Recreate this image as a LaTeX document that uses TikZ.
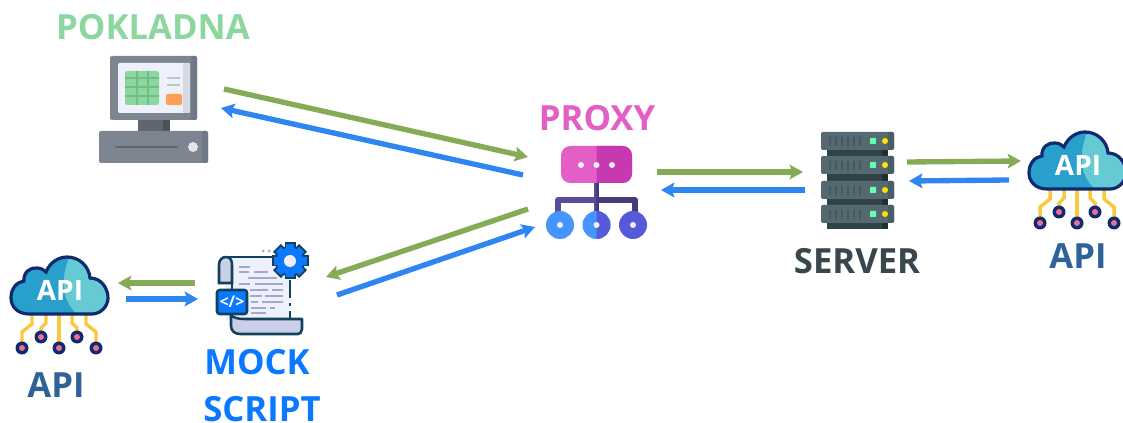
\documentclass[tikz,border=0pt]{standalone}
\usepackage{fontspec}
\setmainfont{Open Sans}
\usetikzlibrary{arrows.meta}
\definecolor{posgreen}{HTML}{8DD6A0}
\definecolor{posgrid}{HTML}{6CC085}
\definecolor{posgray}{HTML}{7D8590}
\definecolor{posdark}{HTML}{6F7885}
\definecolor{posneck}{HTML}{5E6670}
\definecolor{proxypink}{HTML}{E35FC6}
\definecolor{proxydark}{HTML}{C639B0}
\definecolor{proxyline}{HTML}{5B4A9E}
\definecolor{proxylined}{HTML}{443A7C}
\definecolor{proxyblue}{HTML}{4694FF}
\definecolor{proxyviolet}{HTML}{5659D8}
\definecolor{paleblue}{HTML}{EEF1FB}
\definecolor{rack}{HTML}{566970}
\definecolor{rackdark}{HTML}{4B5D64}
\definecolor{rackgap}{HTML}{2F4347}
\definecolor{rackvent}{HTML}{455A60}
\definecolor{servertext}{HTML}{37474B}
\definecolor{apitext}{HTML}{2F6299}
\definecolor{cloudnavy}{HTML}{0F2A6E}
\definecolor{cloudblue}{HTML}{29A0CC}
\definecolor{cloudlight}{HTML}{65CAD3}
\definecolor{wire}{HTML}{FCC63F}
\definecolor{pinpink}{HTML}{EE6E90}
\definecolor{mockblue}{HTML}{0A78FF}
\definecolor{scrollink}{HTML}{12415E}
\definecolor{scrollpale}{HTML}{C9CFE6}
\definecolor{scrollline}{HTML}{A3A9CC}
\definecolor{arrowgreen}{HTML}{86AB56}
\definecolor{arrowblue}{HTML}{2F86F0}
\definecolor{posorange}{HTML}{FF9F55}
\tikzset{
  bigtext/.style={font=\bfseries\fontsize{26}{26}\selectfont, inner sep=0pt},
  greenflow/.style={draw=arrowgreen, line width=4pt, -{Stealth[length=10pt, width=11pt, inset=2pt]}},
  blueflow/.style={draw=arrowblue, line width=4pt, -{Stealth[length=10pt, width=11pt, inset=2pt]}},
  apicloud/.pic={
    % wires
    \foreach \s in {-1,1}{
      \draw[wire, line width=2.6pt] (\s*37,0) -- (\s*37,-16) -- (\s*27,-24) -- (\s*27,-36);
      \draw[wire, line width=2.6pt] (\s*18,-11) -- (\s*18,-20) -- (\s*13,-25) -- (\s*13,-36);
    }
    \draw[wire, line width=2.6pt] (0,0) -- (0,-36);
    % pins
    \foreach \px/\py in {-37/0,-18/-11,0/0,18/-11,37/0}{
      \fill[cloudnavy] (\px,\py) circle (6.5);
      \fill[pinpink] (\px,\py) circle (3);
    }
    % body
    \def\cloudpath{(-30,-34) .. controls (-42,-34) and (-48,-42) .. (-48,-50)
      .. controls (-48,-60) and (-42,-66) .. (-35,-67)
      .. controls (-36,-76) and (-28,-81) .. (-22,-80)
      .. controls (-18,-80) and (-15,-78) .. (-13,-76)
      .. controls (-9,-86) and (0,-91) .. (8,-91)
      .. controls (20,-91) and (30,-82) .. (31,-70)
      .. controls (42,-70) and (49,-60) .. (49,-50)
      .. controls (49,-42) and (42,-34) .. (33,-34) -- cycle}
    \fill[cloudblue] \cloudpath;
    \begin{scope}
      \clip \cloudpath;
      \fill[cloudlight] (11,-92) .. controls (3,-75) and (0,-50) .. (18,-34) -- (55,-34) -- (55,-92) -- cycle;
    \end{scope}
    \draw[cloudnavy, line width=2.4pt] \cloudpath;
    \node[white, font=\bfseries\fontsize{21}{21}\selectfont, inner sep=0pt] at (1,-58) {API};
  }
}
\begin{document}
\begin{tikzpicture}[x=0.75pt, y=-0.75pt]
\useasboundingbox (0,0) rectangle (1123,423);

% === Labels ===
\node[bigtext, text=posgreen] (LabelPos) at (153,27) {POKLADNA};
\node[bigtext, text=proxypink] (LabelProxy) at (597,118) {PROXY};
\node[bigtext, text=servertext] (LabelServer) at (857,261) {SERVER};
\node[bigtext, text=apitext] (LabelApiA) at (1078,256) {API};
\node[bigtext, text=apitext] (LabelApiB) at (56,385) {API};
\node[bigtext, text=mockblue] (LabelMock) at (257,362) {MOCK};
\node[bigtext, text=mockblue] (LabelScript) at (262,409) {SCRIPT};

% === Pokladna ===
\fill[posgray, rounded corners=1.5pt] (110,56) rectangle (197,120);
\fill[posdark, rounded corners=1.5pt] (191,56) rectangle (197,120);
\fill[paleblue, rounded corners=1pt] (118,63) rectangle (190,113);
\fill[black!10!paleblue] (183,63) rectangle (190,113);
\fill[posgreen, rounded corners=1.5pt] (125,71) rectangle (159,105);
\foreach \i in {137,148}{
  \draw[posgrid, line width=2pt] (\i,71) -- (\i,105);
}
\foreach \i in {78,87,96}{
  \draw[posgrid, line width=2pt] (125,\i) -- (159,\i);
}
\foreach \i in {78,85}{
  \draw[black!23, line width=2.2pt] (167,\i) -- (180,\i);
}
\fill[posorange, rounded corners=1pt] (166,94) rectangle (182,105);
\fill[posneck] (138,120) rectangle (170,132);
\fill[posneck!80!black] (163,120) rectangle (170,132);
\fill[posgray, rounded corners=1.5pt] (99,131) rectangle (208,163);
\fill[posdark, rounded corners=1.5pt] (202,131) rectangle (208,163);
\draw[posneck, line width=2.2pt, line cap=round] (116,147) -- (177,147);
\fill[black!10] (193,147) circle (5);

% === Proxy ===
\draw[proxyline, line width=3.8pt, line join=round] (558,214) -- (558,200) -- (596.5,200);
\draw[proxylined, line width=3.8pt, line join=round] (635,214) -- (635,200) -- (596.5,200);
\draw[proxyline, line width=2.4pt] (595.3,183) -- (595.3,214);
\draw[proxylined, line width=2.4pt] (597.7,183) -- (597.7,214);
\fill[proxypink, rounded corners=7pt] (561,146) rectangle (632,183);
\begin{scope}
  \clip (596.5,140) rectangle (640,190);
  \fill[proxydark, rounded corners=7pt] (561,146) rectangle (632,183);
\end{scope}
\foreach \i in {581,596.5,612}{
  \fill[paleblue] (\i,165) circle (3);
}
\fill[proxyblue] (560,225) circle (14);
\fill[proxyblue] (596.5,225) circle (14);
\fill[proxyviolet] (596.5,211) arc (-90:90:14) -- cycle;
\fill[proxyviolet] (633,225) circle (14);
\foreach \i in {560,596.5,633}{
  \fill[paleblue] (\i,225) circle (3);
}

% === Server ===
\fill[rackgap] (827,148) rectangle (888,229);
\fill[rackgap!70!black] (882,148) rectangle (888,229);
\foreach \y in {132,156,181,205}{
  \fill[rack, rounded corners=1pt] (821,\y) rectangle (894,\y+18);
  \fill[rackdark, rounded corners=1pt] (888,\y) rectangle (894,\y+18);
  \foreach \x in {830,836,842,848,854,860}{
    \draw[rackvent, line width=1.6pt] (\x,\y+5) -- (\x,\y+14);
  }
  \fill[green!55!cyan!60!white, rounded corners=.5pt] (870,\y+6) rectangle (876,\y+12);
  \fill[yellow!85!orange] (885,\y+9) circle (3);
}

% === Clouds ===
\pic at (1077,223) {apicloud};
\pic at (59,348) {apicloud};

% === Mock script ===
\fill[paleblue] (226,258) rectangle (290,320);
\draw[scrollink, line width=1.9pt] (232,283) -- (232,320);
\draw[scrollink, line width=1.9pt] (226,257) -- (272,257);
\draw[scrollink, line width=1.9pt] (290,280) -- (290,298);
\draw[scrollink, line width=1.9pt] (290,303) -- (290,306);
\draw[scrollink, line width=1.9pt] (290,311) -- (290,319);
\draw[scrollink, fill=scrollpale, line width=1.9pt] (232,283) -- (219,283) -- (219,265)
  .. controls (219,260) and (222,257) .. (226,257)
  .. controls (230,257) and (232,260) .. (232,265) -- cycle;
\draw[scrollink, fill=scrollpale, line width=1.9pt, line join=round] (244,319) -- (302,319) -- (302,329)
  .. controls (302,332) and (300,334) .. (298,334) -- (240,334)
  .. controls (235,334) and (231,331) .. (231,326) -- (231,314)
  .. controls (231,318) and (240,319) .. (244,319) -- cycle;
\foreach \xa/\xb/\y in {239/250/267, 239/249/272, 254/268/272, 248/277/278,
  239/250/284, 255/283/284, 250/268/290, 272/283/290, 250/262/296, 265/283/296,
  251/258/302, 262/283/302, 251/266/308, 270/275/308, 251/266/313}{
  \draw[scrollline, line width=1.9pt] (\xa,\y) -- (\xb,\y);
}
\foreach \i in {263,269}{
  \fill[scrollline] (\i,251) circle (1.5);
}
% gear
\foreach \a in {0,45,...,315}{
  \fill[scrollink, shift={(290,261)}, rotate=\a] (-5.5,-18.5) rectangle (5.5,0);
}
\fill[scrollink] (290,261) circle (15);
\foreach \a in {0,45,...,315}{
  \fill[mockblue, shift={(290,261)}, rotate=\a] (-3.6,-16.5) rectangle (3.6,0);
}
\fill[mockblue] (290,261) circle (13.5);
\fill[paleblue] (290,261) circle (6);
% code box
\draw[scrollink, fill=mockblue, line width=1.9pt, rounded corners=2pt] (217,290) rectangle (247,314);
\node[white, font=\bfseries\fontsize{12}{12}\selectfont, inner sep=0pt] (CodeTag) at (232,302) {</>};

% === Connections ===
\coordinate (PosOut) at (224,89);
\coordinate (ProxyInA) at (528,157);
\coordinate (ProxyOutA) at (523,175);
\coordinate (PosIn) at (221,108);
\coordinate (ProxyOutB) at (657,172);
\coordinate (ServerIn) at (803,172);
\coordinate (ServerOut) at (805,190);
\coordinate (ProxyInB) at (661,190);
\coordinate (ServerOutB) at (907,162);
\coordinate (CloudIn) at (1021,161);
\coordinate (CloudOut) at (1009,180);
\coordinate (ServerInB) at (909,181);
\coordinate (ProxyOutC) at (528,209);
\coordinate (MockIn) at (326,277);
\coordinate (MockOut) at (337,295);
\coordinate (ProxyInC) at (535,227);
\coordinate (MockOutB) at (195,283);
\coordinate (CloudInB) at (118,283);
\coordinate (CloudOutB) at (126,299);
\coordinate (MockInB) at (198,299);

\foreach \a/\b in {PosOut/ProxyInA, ProxyOutB/ServerIn, ServerOutB/CloudIn, ProxyOutC/MockIn, MockOutB/CloudInB}{
  \draw[greenflow] (\a) -- (\b);
}
\foreach \a/\b in {ProxyOutA/PosIn, ServerOut/ProxyInB, CloudOut/ServerInB, MockOut/ProxyInC, CloudOutB/MockInB}{
  \draw[blueflow] (\a) -- (\b);
}
\end{tikzpicture}
\end{document}
